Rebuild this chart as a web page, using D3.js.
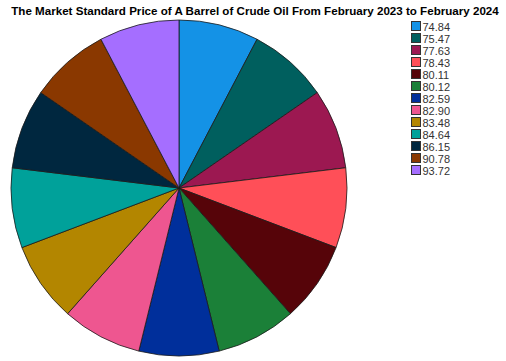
<!DOCTYPE html>
<html>
<head>
<meta charset="utf-8">
<script src="https://cdn.jsdelivr.net/npm/d3@7"></script>
<style>
  body { margin: 0; background: #fff; }
  text { font-family: "Liberation Sans", Arial, sans-serif; }
</style>
</head>
<body>
<div id="chart"></div>
<script>
// monthly prices, one slice each (slices are drawn equal in the original)
var prices = ["74.84", "75.47", "77.63", "78.43", "80.11", "80.12", "82.59",
              "82.90", "83.48", "84.64", "86.15", "90.78", "93.72"];
var sliceCounts = [1, 1, 1, 1, 1, 1, 1, 1, 1, 1, 1, 1, 1];
var colors = ["#1492e6", "#005f5e", "#9c1851", "#ff4f58", "#560409", "#1b8038",
              "#002f9b", "#ee5690", "#b38600", "#00a19a", "#00273f", "#8a3800", "#a56eff"];
var title = "The Market Standard Price of A Barrel of Crude Oil From February 2023 to February 2024";

var width = 506, height = 361;
var svg = d3.select("#chart").append("svg")
    .attr("width", width)
    .attr("height", height);

svg.append("text")
    .attr("x", 255)
    .attr("y", 15)
    .attr("text-anchor", "middle")
    .style("font-size", "11.6px")
    .style("font-weight", "bold")
    .attr("fill", "#000")
    .text(title);

var cx = 179, cy = 188, r = 168;
var pie = d3.pie().sort(null).value(function(d) { return d; });
var arc = d3.arc().innerRadius(0).outerRadius(r);
var color = d3.scaleOrdinal().domain(prices).range(colors);

var g = svg.append("g").attr("transform", "translate(" + cx + "," + cy + ")");
g.selectAll("path")
    .data(pie(sliceCounts))
    .enter()
    .append("path")
    .attr("d", arc)
    .attr("fill", function(d, i) { return color(prices[i]); })
    .attr("stroke", "#1a1a1a")
    .attr("stroke-width", 0.8);

// legend
var y = d3.scaleBand().domain(prices).range([20, 20 + 12 * prices.length]);
var legend = svg.append("g");
var rows = legend.selectAll("g")
    .data(prices)
    .enter()
    .append("g")
    .attr("transform", function(d) { return "translate(411," + y(d) + ")"; });
rows.append("rect")
    .attr("x", 0.5).attr("y", 1.5)
    .attr("width", 9).attr("height", 9)
    .attr("fill", function(d) { return color(d); })
    .attr("stroke", "#333")
    .attr("stroke-width", 1);
rows.append("text")
    .attr("x", 11.5)
    .attr("y", 10.5)
    .style("font-size", "11px")
    .attr("fill", "#333")
    .text(function(d) { return d; });
</script>
</body>
</html>
